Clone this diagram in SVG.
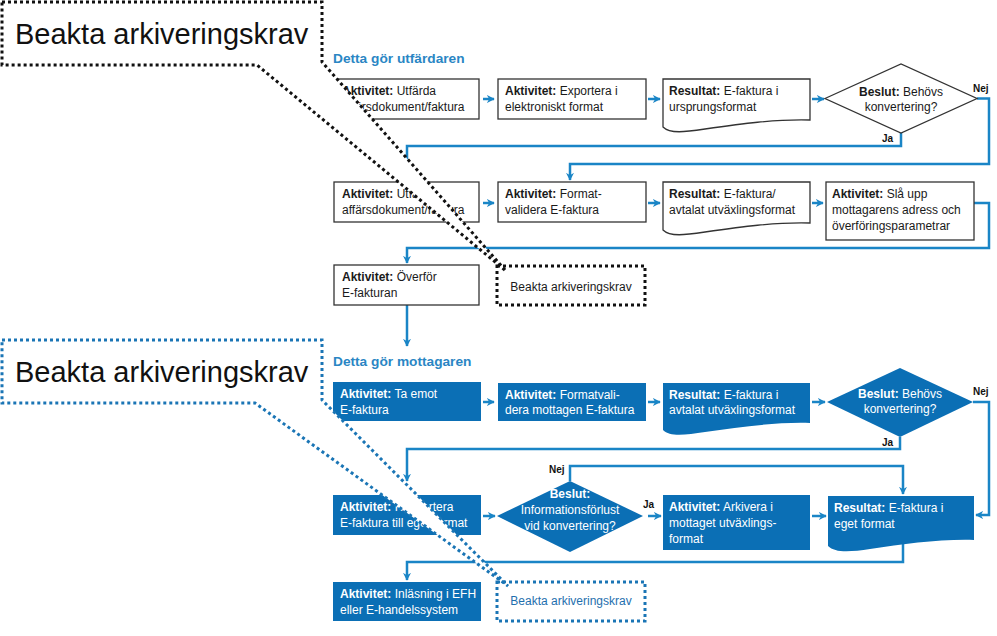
<svg xmlns="http://www.w3.org/2000/svg" width="997" height="636" viewBox="0 0 997 636">
<defs>
<marker id="ah" viewBox="0 0 10 10" refX="9" refY="5" markerWidth="8" markerHeight="8" markerUnits="userSpaceOnUse" orient="auto">
<path d="M0,0 L10,5 L0,10 L3,5 Z" fill="#1a85c6"/>
</marker>
</defs>
<style>
text{font-family:"Liberation Sans",Arial,sans-serif;}
.t{font-size:12px;fill:#1a1a1a}
.tw{font-size:12px;fill:#fff}
.c{text-anchor:middle}
.b{font-weight:bold}
.box{fill:#fff;stroke:#333;stroke-width:1.3}
.fbox{fill:#0b6fb5;stroke:none}
.arr{fill:none;stroke:#1a85c6;stroke-width:2.5;marker-end:url(#ah)}
.hd{font-size:13.7px;font-weight:bold;fill:#2a86c4}
.lbl{font-size:10px;font-weight:bold;fill:#111}
.dotk{fill:#fff;stroke:#111;stroke-width:3;stroke-dasharray:3 3}
.dotb{fill:#fff;stroke:#1a75b5;stroke-width:3;stroke-dasharray:3 3}
.big{font-size:29px;fill:#111}
</style>
<rect width="997" height="636" fill="#fff"/>

<text class="hd" x="333" y="63">Detta gör utfärdaren</text>
<text class="hd" x="333" y="366">Detta gör mottagaren</text>

<g id="connectors">
<path class="arr" d="M483,99 H494"/>
<path class="arr" d="M648,99 H660"/>
<path class="arr" d="M812,99 H824"/>
<path class="arr" d="M977,98.5 H989 V164 H570 V180"/>
<path class="arr" d="M901,133 V146 H407 V180"/>
<path class="arr" d="M483,203 H494"/>
<path class="arr" d="M648,203 H660"/>
<path class="arr" d="M812,203 H823"/>
<path class="arr" d="M974,203 H989 V248 H407 V263"/>
<path class="arr" d="M407,305 V346"/>
<path class="arr" d="M483,402 H494"/>
<path class="arr" d="M648,402 H660"/>
<path class="arr" d="M812,402 H825"/>
<path class="arr" d="M973,402 H989 V515 H976"/>
<path class="arr" d="M900,437 V449 H407 V481"/>
<path class="arr" d="M483,516 H495"/>
<path class="arr" d="M648,516 H661"/>
<path class="arr" d="M812,516 H826"/>
<path class="arr" d="M570,481 V466 H903 V494"/>
<path class="arr" d="M903,543 V562 H407 V580"/>
<text class="lbl" x="973" y="92">Nej</text>
<text class="lbl" x="882" y="142">Ja</text>
<text class="lbl" x="973" y="395">Nej</text>
<text class="lbl" x="882" y="446">Ja</text>
<text class="lbl" x="549" y="473">Nej</text>
<text class="lbl" x="643" y="508">Ja</text>
</g>

<g id="n1"><rect class="box" x="334" y="79" width="145" height="40"/>
<text class="t" x="342" y="95"><tspan class="b">Aktivitet:</tspan> Utfärda</text>
<text class="t" x="342" y="111">affärsdokument/faktura</text></g>
<g id="n2"><rect class="box" x="498" y="79" width="148" height="40"/>
<text class="t" x="505" y="95"><tspan class="b">Aktivitet:</tspan> Exportera i</text>
<text class="t" x="505" y="111">elektroniskt format</text></g>
<g id="n3"><path class="box" d="M663,79 H810 V120 C775,119 740,124 705,129 C685,132 670,134 663,127 Z"/>
<text class="t" x="669" y="95"><tspan class="b">Resultat:</tspan> E-faktura i</text>
<text class="t" x="669" y="111">ursprungsformat</text></g>
<g id="n4"><polygon class="box" points="825,98.5 901,64 977,98.5 901,133"/>
<text class="t c" x="901" y="96"><tspan class="b">Beslut:</tspan> Behövs</text>
<text class="t c" x="901" y="111">konvertering?</text></g>

<g id="n5"><rect class="box" x="334" y="182" width="145" height="40"/>
<text class="t" x="342" y="198"><tspan class="b">Aktivitet:</tspan> Utfärda</text>
<text class="t" x="342" y="214">affärsdokument/faktura</text></g>
<g id="n6"><rect class="box" x="498" y="182" width="148" height="40"/>
<text class="t" x="505" y="198"><tspan class="b">Aktivitet:</tspan> Format-</text>
<text class="t" x="505" y="214">validera E-faktura</text></g>
<g id="n7"><path class="box" d="M663,182 H810 V223 C775,222 740,227 705,232 C685,235 670,237 663,230 Z"/>
<text class="t" x="669" y="198"><tspan class="b">Resultat:</tspan> E-faktura/</text>
<text class="t" x="669" y="214">avtalat utväxlingsformat</text></g>
<g id="n8"><rect class="box" x="826" y="182" width="148" height="58"/>
<text class="t" x="832" y="198"><tspan class="b">Aktivitet:</tspan> Slå upp</text>
<text class="t" x="832" y="214">mottagarens adress och</text>
<text class="t" x="832" y="230">överföringsparametrar</text></g>

<g id="n9"><rect class="box" x="334" y="265" width="145" height="40"/>
<text class="t" x="342" y="281"><tspan class="b">Aktivitet:</tspan> Överför</text>
<text class="t" x="342" y="297">E-fakturan</text></g>
<g id="n10"><rect class="dotk" x="497" y="266" width="148" height="39"/>
<text class="t c" x="571" y="291">Beakta arkiveringskrav</text></g>

<g id="n11"><rect class="fbox" x="333" y="382" width="148" height="39"/>
<text class="tw" x="340" y="398"><tspan class="b">Aktivitet:</tspan> Ta emot</text>
<text class="tw" x="340" y="414">E-faktura</text></g>
<g id="n12"><rect class="fbox" x="498" y="383" width="148" height="38"/>
<text class="tw" x="505" y="399"><tspan class="b">Aktivitet:</tspan> Formatvali-</text>
<text class="tw" x="505" y="414">dera mottagen E-faktura</text></g>
<g id="n13"><path class="fbox" d="M663,383 H810 V423 C775,422 740,427 705,432 C685,435 670,437 663,430 Z"/>
<text class="tw" x="669" y="399"><tspan class="b">Resultat:</tspan> E-faktura i</text>
<text class="tw" x="669" y="414">avtalat utväxlingsformat</text></g>
<g id="n14"><polygon class="fbox" points="827,402 900,368 973,402 900,437"/>
<text class="tw c" x="900" y="398"><tspan class="b">Beslut:</tspan> Behövs</text>
<text class="tw c" x="900" y="413">konvertering?</text></g>

<g id="n15"><rect class="fbox" x="333" y="495" width="148" height="40"/>
<text class="tw" x="340" y="511"><tspan class="b">Aktivitet:</tspan> Konvertera</text>
<text class="tw" x="340" y="527">E-faktura till eget format</text></g>
<g id="n16"><polygon class="fbox" points="497,516 570,481 643,516 570,552"/>
<text class="tw c b" x="570" y="498">Beslut:</text>
<text class="tw c" x="570" y="514">Informationsförlust</text>
<text class="tw c" x="570" y="530">vid konvertering?</text></g>
<g id="n17"><rect class="fbox" x="663" y="495" width="147" height="55"/>
<text class="tw" x="669" y="511"><tspan class="b">Aktivitet:</tspan> Arkivera i</text>
<text class="tw" x="669" y="527">mottaget utväxlings-</text>
<text class="tw" x="669" y="543">format</text></g>
<g id="n18"><path class="fbox" d="M828,496 H974 V540 C940,539 905,544 870,549 C850,552 835,553 828,546 Z"/>
<text class="tw" x="834" y="512"><tspan class="b">Resultat:</tspan> E-faktura i</text>
<text class="tw" x="834" y="528">eget format</text></g>

<g id="n19"><rect class="fbox" x="333" y="582" width="148" height="39"/>
<text class="tw" x="340" y="598"><tspan class="b">Aktivitet:</tspan> Inläsning i EFH</text>
<text class="tw" x="340" y="614">eller E-handelssystem</text></g>
<g id="n20"><rect class="dotb" x="497" y="582" width="148" height="39"/>
<text class="t c" x="571" y="605" style="fill:#1f6fae">Beakta arkiveringskrav</text></g>

<g id="callout1">
<path class="dotk" d="M2,2 H322 V62 L506,271 L257,65 H2 Z"/>
<text class="big" x="15" y="44">Beakta arkiveringskrav</text>
</g>
<g id="callout2">
<path class="dotb" d="M2,340 H322 V400 L508,586 L255,403 H2 Z"/>
<text class="big" x="15" y="382">Beakta arkiveringskrav</text>
</g>
</svg>
